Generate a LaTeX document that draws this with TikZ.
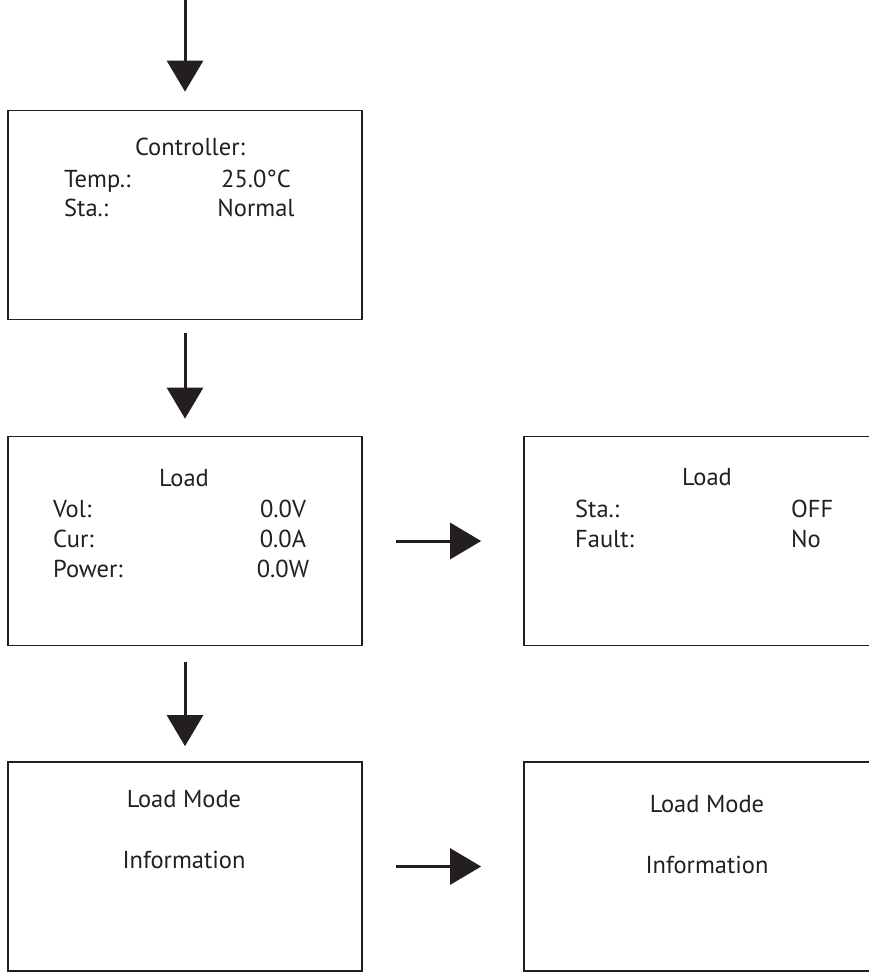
\documentclass[tikz,border=0pt]{standalone}
\usepackage{fontspec}
\setmainfont{PT Sans}
\usepackage{tikz}
\usetikzlibrary{arrows.meta}
\definecolor{ink}{RGB}{35,31,32}

\begin{document}
\begin{tikzpicture}[x=1pt, y=-1pt,
	panel/.style={draw=ink, line width=1.7pt, minimum width=354pt, minimum height=209pt, inner sep=0pt},
	txt/.style={text=ink, inner sep=0pt, font=\fontsize{24.5}{29}\selectfont},
	flow/.style={-{Triangle[length=31pt, width=36pt]}, line width=3pt, draw=ink}]
	\useasboundingbox (0,0) rectangle (868,972);
	% screens
	\node[panel] (ctrl) at (185,215) {};
	\node[panel] (load) at (185,541) {};
	\node[panel] (loadsta) at (701,541) {};
	\node[panel] (mode) at (185,866.5) {};
	\node[panel] (modeinfo) at (701,866.5) {};
	% controller screen
	\node[txt, anchor=base] (ctrlhead) at (190,155) {Controller:};
	\node[txt, anchor=base west] (ctrltemp) at (64,187) {Temp.:};
	\node[txt, anchor=base] (ctrltempv) at (256,187) {25.0°C};
	\node[txt, anchor=base west] (ctrlsta) at (64,216) {Sta.:};
	\node[txt, anchor=base] (ctrlstav) at (256,216) {Normal};
	% load screen
	\node[txt, anchor=base] (loadhead) at (184,486) {Load};
	\node[txt, anchor=base west] (loadvol) at (53,517) {Vol:};
	\node[txt, anchor=base] (loadvolv) at (283,517) {0.0V};
	\node[txt, anchor=base west] (loadcur) at (53,547) {Cur:};
	\node[txt, anchor=base] (loadcurv) at (283,547) {0.0A};
	\node[txt, anchor=base west] (loadpow) at (53,577) {Power:};
	\node[txt, anchor=base] (loadpowv) at (283,577) {0.0W};
	% load state screen
	\node[txt, anchor=base] (stahead) at (707,485) {Load};
	\node[txt, anchor=base west] (stasta) at (575,517) {Sta.:};
	\node[txt, anchor=base west] (ststav) at (791,517) {OFF};
	\node[txt, anchor=base west] (stafault) at (575,547) {Fault:};
	\node[txt, anchor=base west] (stafaultv) at (791,547) {No};
	% load mode screens
	\node[txt, anchor=base] (modehead) at (184,807) {Load Mode};
	\node[txt, anchor=base] (modetext) at (184,868) {Information};
	\node[txt, anchor=base] (infohead) at (707,812) {Load Mode};
	\node[txt, anchor=base] (infotext) at (707,873) {Information};
	% arrows
	\coordinate (entry) at (185,0);
	\draw[flow, shorten >=18pt] (entry) -- (ctrl);
	\draw[flow, shorten <=13pt, shorten >=17pt] (ctrl) -- (load);
	\draw[flow, shorten <=16pt, shorten >=15pt] (load) -- (mode);
	\draw[flow, shorten <=33pt, shorten >=42pt] (load) -- (loadsta);
	\draw[flow, shorten <=33pt, shorten >=42pt] (mode) -- (modeinfo);
\end{tikzpicture}
\end{document}
